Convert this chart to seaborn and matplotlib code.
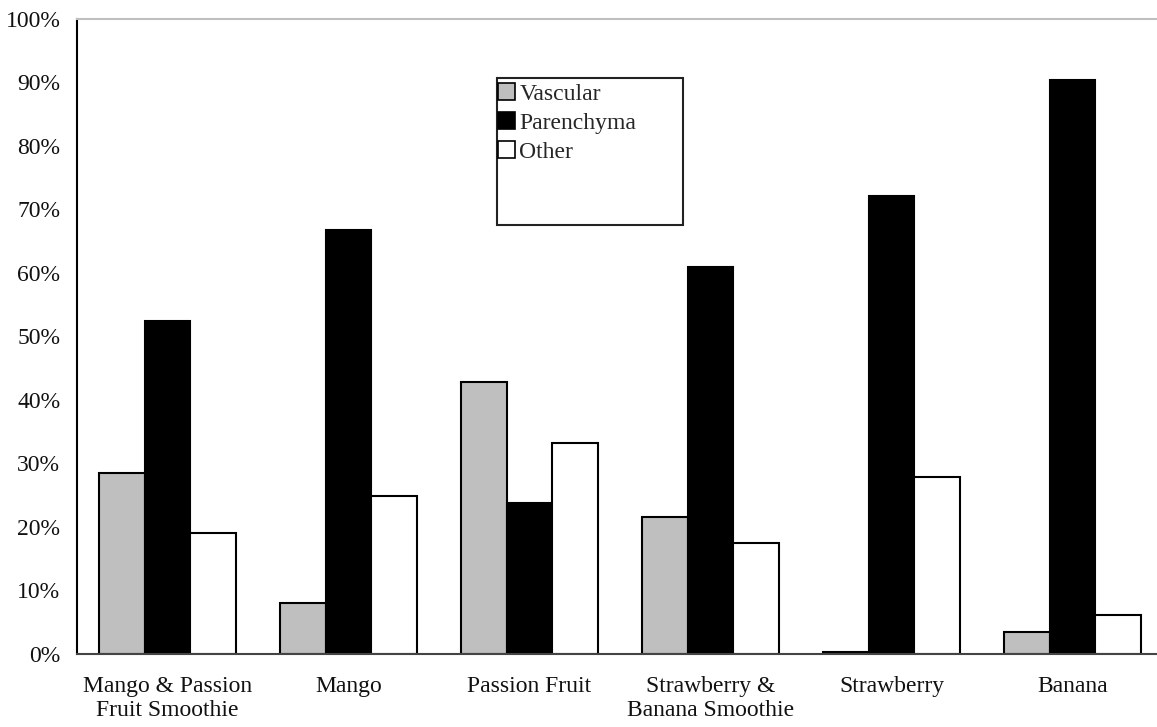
import matplotlib
matplotlib.use("Agg")
import matplotlib.pyplot as plt
import seaborn as sns
import pandas as pd
from matplotlib.patches import Rectangle, Patch
from matplotlib.ticker import MultipleLocator, PercentFormatter

categories = ["Mango & Passion\nFruit Smoothie", "Mango", "Passion Fruit",
              "Strawberry &\nBanana Smoothie", "Strawberry", "Banana"]
series = ["Vascular", "Parenchyma", "Other"]
vascular = [28.5, 8.1, 42.8, 21.5, 0.3, 3.4]
parenchyma = [52.4, 66.8, 23.8, 60.9, 72.1, 90.4]
other = [19.0, 24.9, 33.2, 17.5, 27.8, 6.2]
colors = ["#bfbfbf", "#000000", "#ffffff"]

rows = []
for name, vals in zip(series, [vascular, parenchyma, other]):
    for c, v in zip(categories, vals):
        rows.append({"Category": c, "Type": name, "Value": v})
df = pd.DataFrame(rows)

sns.set_style("white")
plt.rcParams["font.family"] = ["Liberation Serif", "DejaVu Serif"]

fig = plt.figure(figsize=(11.57, 7.27), dpi=100)
ax = fig.add_axes([77/1157, 1 - 654/727, 1086/1157, (654 - 19)/727])

sns.barplot(data=df, x="Category", y="Value", hue="Type", order=categories,
            hue_order=series, palette=colors, edgecolor="black", linewidth=1.5,
            width=0.76, ax=ax, legend=False)

ax.set_ylim(0, 100)
ax.set_xlim(-0.5, len(categories) - 0.5)
ax.yaxis.set_major_locator(MultipleLocator(10))
ax.yaxis.set_major_formatter(PercentFormatter(decimals=0))
ax.set_xlabel("")
ax.set_ylabel("")
ax.tick_params(axis="both", length=0, labelsize=17, colors="#111111")
ax.tick_params(axis="y", pad=12)
ax.tick_params(axis="x", pad=16)
for lbl in ax.get_xticklabels():
    lbl.set_linespacing(1.2)

ax.spines["left"].set_color("black")
ax.spines["left"].set_linewidth(1.5)
ax.spines["bottom"].set_color("#444444")
ax.spines["bottom"].set_linewidth(1.5)
ax.spines["top"].set_color("#bfbfbf")
ax.spines["top"].set_linewidth(1.5)
ax.spines["right"].set_visible(False)

# legend box
lx0, lx1 = (497 - 77) / 1086, (683 - 77) / 1086
ly0, ly1 = (654 - 225) / 635, (654 - 78) / 635
ax.add_patch(Rectangle((lx0, ly0), lx1 - lx0, ly1 - ly0, transform=ax.transAxes,
                       facecolor="white", edgecolor="#222222", linewidth=1.5, zorder=5))
handles = [Patch(facecolor=c, edgecolor="black", linewidth=1.2) for c in colors]
leg = ax.legend(handles, series, loc="upper left", bbox_to_anchor=(lx0 + 0.001, ly1 - 0.008),
                bbox_transform=ax.transAxes, frameon=False, fontsize=17,
                handlelength=0.7, handleheight=0.7, handletextpad=0.2,
                labelspacing=0.32, borderpad=0, borderaxespad=0)
leg.set_zorder(6)

fig.savefig("out.png", dpi=100)
